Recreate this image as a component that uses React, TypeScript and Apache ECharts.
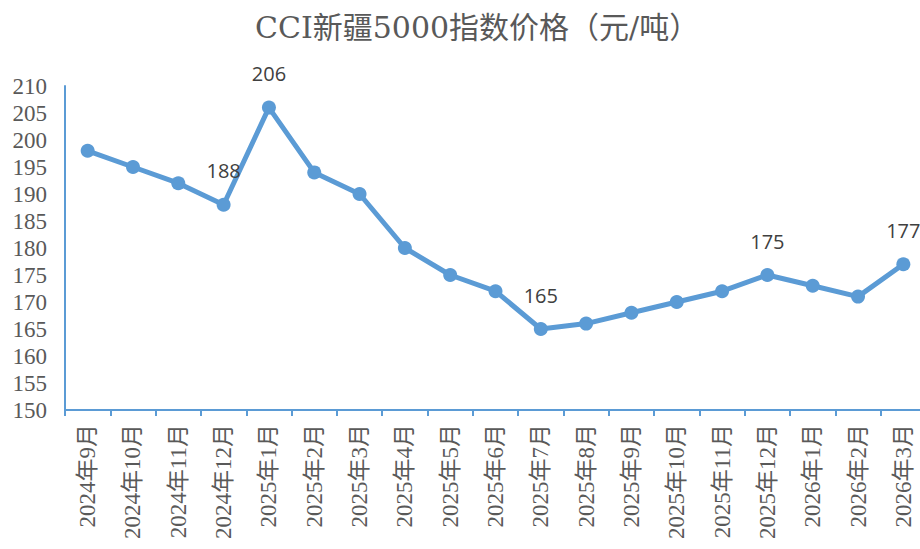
import React, { useEffect, useRef } from "react";
import * as echarts from "echarts";

const categories = [
  "2024年9月", "2024年10月", "2024年11月", "2024年12月",
  "2025年1月", "2025年2月", "2025年3月", "2025年4月", "2025年5月", "2025年6月",
  "2025年7月", "2025年8月", "2025年9月", "2025年10月", "2025年11月", "2025年12月",
  "2026年1月", "2026年2月", "2026年3月",
];
const prices = [198, 195, 192, 188, 206, 194, 190, 180, 175, 172, 165, 166, 168, 170, 172, 175, 173, 171, 177];
const labelledIndices = [3, 4, 10, 15, 18];
const titleText = "CCI新疆5000指数价格（元/吨）";

export default function App() {
  const ref = useRef<HTMLDivElement>(null);
  useEffect(() => {
    if (!ref.current) return;
    const chart = echarts.init(ref.current, undefined, { renderer: "svg" });
    const blue = "#5B9BD5";
    const serif = "'Liberation Serif', 'Noto Sans CJK SC', serif";
    chart.setOption({
      animation: false,
      backgroundColor: "#ffffff",
      title: {
        text: titleText,
        left: 250,
        top: 7,
        textStyle: {
          fontFamily: "'DejaVu Serif', 'Noto Sans CJK SC', serif",
          fontSize: 30,
          fontWeight: "normal",
          color: "#595959",
        },
      },
      grid: {
        left: 65,
        top: 86,
        bottom: 139,
        right: -6,
        containLabel: false,
        outerBoundsMode: "none",
      },
      xAxis: {
        type: "category",
        data: categories,
        boundaryGap: true,
        axisLine: { lineStyle: { color: blue, width: 2 } },
        axisTick: { show: true, length: 6, lineStyle: { color: blue, width: 2 } },
        axisLabel: {
          rotate: 90,
          interval: 0,
          margin: 14,
          fontFamily: serif,
          fontSize: 23,
          color: "#595959",
        },
        splitLine: { show: false },
      },
      yAxis: {
        type: "value",
        min: 150,
        max: 210,
        interval: 5,
        axisLine: { show: true, lineStyle: { color: blue, width: 2 } },
        axisTick: { show: false },
        axisLabel: {
          margin: 18,
          fontFamily: serif,
          fontSize: 23,
          color: "#595959",
        },
        splitLine: { show: false },
      },
      series: [
        {
          type: "line",
          data: prices.map((v, i) => ({
            value: v,
            label: {
              show: labelledIndices.includes(i),
            },
          })),
          symbol: "circle",
          symbolSize: 14,
          lineStyle: { color: blue, width: 5 },
          itemStyle: { color: blue },
          label: {
            position: "top",
            distance: 17,
            fontFamily: "'Open Sans', sans-serif",
            fontSize: 20,
            color: "#404040",
          },
        },
      ],
    });
    return () => chart.dispose();
  }, []);
  return (
    <div
      ref={ref}
      style={{ position: "absolute", left: 0, top: 0, width: 920, height: 549 }}
    />
  );
}
